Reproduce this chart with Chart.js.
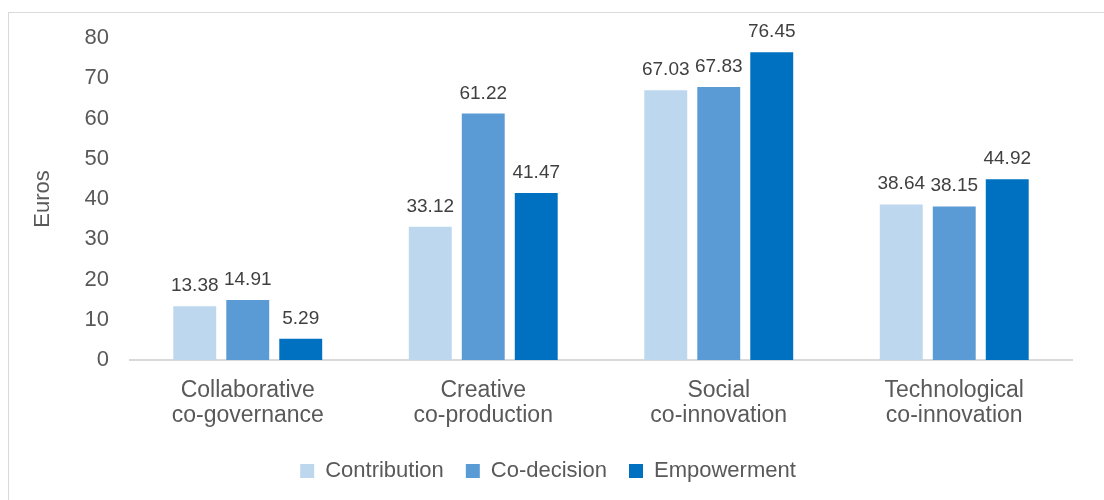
<!DOCTYPE html>
<html>
<head>
<meta charset="utf-8">
<script src="https://cdn.jsdelivr.net/npm/chart.js@4.4.0/dist/chart.umd.min.js"></script>
<style>
  body { margin: 0; background: #fff; overflow: hidden; }
  #frame { position: absolute; left: 8px; top: 12px; width: 1120px; height: 520px; border: 1px solid #d9d9d9; }
  #wrap { position: absolute; left: 0; top: 0; width: 1104px; height: 500px; }
</style>
</head>
<body>
<div id="frame"></div>
<div id="wrap"><canvas id="myChart" width="1104" height="500"></canvas></div>
<script>
const categories = [
  ["Collaborative", "co-governance"],
  ["Creative", "co-production"],
  ["Social", "co-innovation"],
  ["Technological", "co-innovation"],
];
const seriesNames = ["Contribution", "Co-decision", "Empowerment"];
const contribution = [13.38, 33.12, 67.03, 38.64];
const coDecision = [14.91, 61.22, 67.83, 38.15];
const empowerment = [5.29, 41.47, 76.45, 44.92];
const yTicks = [0, 10, 20, 30, 40, 50, 60, 70, 80];

const colors = ["#bdd7ee", "#5b9bd5", "#0070c0"];
const textGray = "#595959";

// values over each bar
const valueLabels = {
  id: "valueLabels",
  afterDatasetsDraw(chart) {
    const c = chart.ctx;
    c.save();
    c.font = "19px 'Liberation Sans', Arial, sans-serif";
    c.fillStyle = "#404040";
    c.textAlign = "center";
    c.textBaseline = "alphabetic";
    chart.data.datasets.forEach((ds, i) => {
      chart.getDatasetMeta(i).data.forEach((bar, j) => {
        c.fillText(ds.data[j].toFixed(2), bar.x, bar.y - 15);
      });
    });
    c.restore();
  },
};

const ctx = document.getElementById("myChart");

new Chart(ctx, {
  type: "bar",
  data: {
    labels: categories,
    datasets: [
      { label: seriesNames[0], data: contribution, backgroundColor: colors[0] },
      { label: seriesNames[1], data: coDecision, backgroundColor: colors[1] },
      { label: seriesNames[2], data: empowerment, backgroundColor: colors[2] },
    ],
  },
  options: {
    responsive: false,
    animation: false,
    categoryPercentage: 0.675,
    barPercentage: 0.81,
    layout: { padding: { left: 24, right: 32, top: 38, bottom: 8 } },
    scales: {
      x: {
        grid: { display: false, drawTicks: false },
        border: { display: true, color: "#d9d9d9", width: 2 },
        ticks: {
          color: textGray,
          padding: 18,
          maxRotation: 0,
          autoSkip: false,
          font: { family: "'Liberation Sans', Arial, sans-serif", size: 23, lineHeight: 1.1 },
        },
        afterFit(scale) { scale.height = 78; },
      },
      y: {
        min: 0,
        max: 80,
        afterBuildTicks(scale) { scale.ticks = yTicks.map((v) => ({ value: v })); },
        grid: { display: false, drawTicks: false },
        border: { display: false },
        ticks: {
          color: textGray,
          padding: 21,
          font: { family: "'Liberation Sans', Arial, sans-serif", size: 22 },
        },
        title: {
          display: true,
          text: "Euros",
          color: textGray,
          padding: { top: 6, bottom: 0 },
          font: { family: "'Liberation Sans', Arial, sans-serif", size: 22 },
        },
        afterFit(scale) { scale.width = 106; },
      },
    },
    plugins: {
      legend: {
        position: "bottom",
        labels: {
          color: textGray,
          boxWidth: 14,
          boxHeight: 14,
          padding: 22,
          font: { family: "'Liberation Sans', Arial, sans-serif", size: 22 },
        },
      },
      tooltip: { enabled: false },
    },
  },
  plugins: [valueLabels],
});
</script>
</body>
</html>
